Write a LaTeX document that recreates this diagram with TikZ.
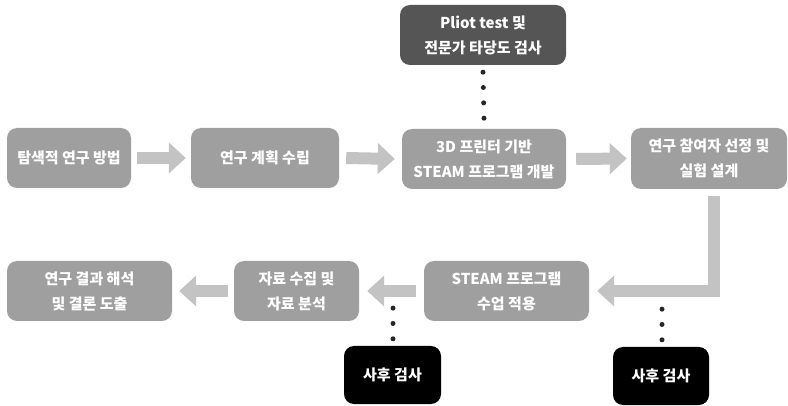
\documentclass[tikz,border=0pt]{standalone}
\usepackage{fontspec}
\setmainfont{Noto Sans CJK KR}
\usetikzlibrary{arrows.meta}
\definecolor{boxgray}{HTML}{9F9F9F}
\definecolor{arrgray}{HTML}{C3C3C3}
\definecolor{darkbox}{HTML}{555555}
\tikzset{
  stepbox/.style={fill=boxgray, rounded corners=10pt, text=white, align=center,
    font=\fontsize{15}{25}\selectfont\bfseries, inner sep=0pt},
  darkstep/.style={stepbox, fill=darkbox},
  testbox/.style={stepbox, fill=black},
  blockarrow/.style={draw=arrgray, line width=12pt, line cap=butt,
    -{Triangle[width=30pt,length=17pt,fill=arrgray,color=arrgray]}},
  dotline/.style={draw=black!85, line width=5pt, line cap=round, dash pattern=on 0pt off 15.33pt}
}
\begin{document}
\begin{tikzpicture}[x=1pt,y=-1pt]
\useasboundingbox (0,0) rectangle (788,406);
% row 1
\node[stepbox, minimum width=124pt, minimum height=60pt] (b1) at (69,158) {탐색적 연구 방법};
\node[stepbox, minimum width=148pt, minimum height=60pt] (b2) at (265,158) {연구 계획 수립};
\node[stepbox, minimum width=164pt, minimum height=60pt] (b3) at (484,159) {3D 프린터 기반\\STEAM 프로그램 개발};
\node[darkstep, minimum width=166pt, minimum height=60pt] (top) at (483,35) {Pliot test 및\\전문가 타당도 검사};
\node[stepbox, minimum width=156pt, minimum height=61pt] (b4) at (709,158.5) {연구 참여자 선정 및\\실험 설계};
% row 2
\node[stepbox, minimum width=165pt, minimum height=60pt] (c1) at (506.5,291) {STEAM 프로그램\\수업 적용};
\node[stepbox, minimum width=125pt, minimum height=60pt] (c2) at (296.5,291) {자료 수집 및\\자료 분석};
\node[stepbox, minimum width=165pt, minimum height=60pt] (c3) at (89.5,291) {연구 결과 해석\\및 결론 도출};
\node[testbox, minimum width=97pt, minimum height=58pt] (d1) at (392.5,375) {사후 검사};
\node[testbox, minimum width=96pt, minimum height=58pt] (d2) at (661,376) {사후 검사};
% arrows row 1
\draw[blockarrow] ([xshift=6pt]b1.east) -- ([xshift=-5pt]b2.west);
\draw[blockarrow] ([xshift=7pt]b2.east) -- ([xshift=-7pt]b3.west);
\draw[blockarrow] ([xshift=10pt]b3.east) -- ([xshift=-4pt]b4.west);
% L arrow
\coordinate (lstart) at ([xshift=4.5pt,yshift=-6.5pt]b4.south);
\draw[blockarrow] (lstart) |- ([xshift=8pt]c1.east);
% arrows row 2
\draw[blockarrow] ([xshift=-8pt]c1.west) -- ([xshift=8pt]c2.east);
\draw[blockarrow] ([xshift=-6pt]c2.west) -- ([xshift=7pt]c3.east);
% dots
\draw[dotline] ([yshift=-7pt]top.south) -- ([yshift=10.5pt]b3.north);
\draw[dotline] ([xshift=0.5pt,yshift=7pt]d1.north) -- ([xshift=0.5pt,yshift=38.5pt]d1.north);
\draw[dotline] ([xshift=1pt,yshift=7pt]d2.north) -- ([xshift=1pt,yshift=39.5pt]d2.north);
\end{tikzpicture}
\end{document}
